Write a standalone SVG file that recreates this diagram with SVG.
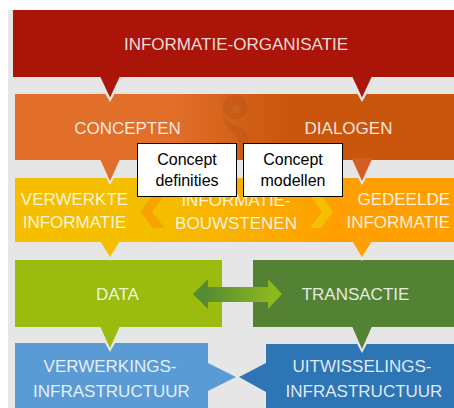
<svg xmlns="http://www.w3.org/2000/svg" width="454" height="408" viewBox="0 0 454 408">
<style>
.t{font-family:"Liberation Sans",Arial,sans-serif;font-size:17px;fill:#fff;fill-opacity:.86;text-anchor:middle}
.lb{font-family:"Liberation Sans",Arial,sans-serif;font-size:16px;fill:#000;text-anchor:middle}
.box{fill:#fff;stroke:#000;stroke-width:1}
.notch{fill:#E6E6E6}
.wm{fill:#000;fill-opacity:.06}
</style>
<defs>
<linearGradient id="gOr" gradientUnits="userSpaceOnUse" x1="175" y1="0" x2="285" y2="0">
<stop offset="0" stop-color="#E16F29"/><stop offset="1" stop-color="#C9560C"/>
</linearGradient>
<linearGradient id="gYe" gradientUnits="userSpaceOnUse" x1="150" y1="0" x2="330" y2="0">
<stop offset="0" stop-color="#F5BF00"/><stop offset="1" stop-color="#FFA000"/>
</linearGradient>
<linearGradient id="gAr" gradientUnits="userSpaceOnUse" x1="205" y1="0" x2="272" y2="0">
<stop offset="0" stop-color="#568A33"/><stop offset="1" stop-color="#8DB81E"/>
</linearGradient>
</defs>
<rect x="8" y="10" width="446" height="398" fill="#E6E6E6"/>

<g id="informatie-organisatie">
<rect x="13" y="10" width="441" height="67" fill="#AB1409"/>
<text class="t" x="236" y="50">INFORMATIE-ORGANISATIE</text>
</g>

<g id="concepten-dialogen">
<rect x="15" y="94" width="439" height="66" fill="url(#gOr)"/>
<circle class="wm" cx="235" cy="107" r="12.5"/>
<circle cx="236" cy="109" r="4" fill="#fff" fill-opacity=".06"/>
<path class="wm" d="M223 111 C222 124 238 124 244 130 C249 135 250 145 248 160 L240 160 C241 146 239 138 234 134 C228 129 222 124 223 111 Z"/>
<text class="t" x="127.5" y="134">CONCEPTEN</text>
<text class="t" x="348.5" y="134">DIALOGEN</text>
</g>

<g id="informatie-bouwstenen">
<rect x="15" y="178" width="439" height="64" fill="url(#gYe)"/>
<polygon points="153,195 165,195 152,211.5 165,228 153,228 140,211.5" fill="#F8A300"/>
<polygon points="310,195 321,195 333,211.5 321,228 310,228 322,211.5" fill="#F5C000"/>
<text class="t" x="74.5" y="205">VERWERKTE</text>
<text class="t" x="74.5" y="228">INFORMATIE</text>
<text class="t" x="236" y="206">INFORMATIE-</text>
<text class="t" x="236" y="229">BOUWSTENEN</text>
<text class="t" x="450" y="205" style="text-anchor:end">GEDEELDE</text>
<text class="t" x="450" y="228" style="text-anchor:end">INFORMATIE</text>
</g>

<g id="data">
<rect x="15" y="260" width="207" height="67" fill="#9BBB0E"/>
<text class="t" x="117.5" y="300">DATA</text>
</g>

<g id="transactie">
<rect x="253" y="260" width="201" height="67" fill="#548235"/>
<text class="t" x="355.5" y="300">TRANSACTIE</text>
</g>

<g id="verwerkings-infrastructuur">
<path d="M15 343 H208 V363 L236 377 L208 391 V408 H15 Z" fill="#5B9BD5"/>
<text class="t" x="110" y="372">VERWERKINGS-</text>
<text class="t" x="111.5" y="397">INFRASTRUCTUUR</text>
</g>

<g id="uitwisselings-infrastructuur">
<path d="M266 344 H454 V408 H266 V392 L239 377 L266 363 Z" fill="#2E75B6"/>
<text class="t" x="362" y="372">UITWISSELINGS-</text>
<text class="t" x="364" y="397">INFRASTRUCTUUR</text>
</g>

<g id="connectors">
<polygon class="notch" points="96,77 124,77 110,102"/>
<polygon points="99.5,75 120.5,75 110,97.5" fill="#AB1409"/>
<polygon class="notch" points="348,77 376,77 362,102"/>
<polygon points="351.5,75 372.5,75 362,97.5" fill="#AB1409"/>

<polygon class="notch" points="96,160 124,160 110,185"/>
<polygon points="99.5,158 120.5,158 110,181" fill="#E16F29"/>
<polygon class="notch" points="348,160 376,160 362,185"/>
<polygon points="351.5,158 372.5,158 362,181" fill="#D45E22"/>

<polygon class="notch" points="96,242 124,242 110,261"/>
<polygon points="99.5,240 120.5,240 110,257" fill="#F5BF00"/>
<polygon class="notch" points="348,242 376,242 362,261"/>
<polygon points="351.5,240 372.5,240 362,257" fill="#FFA000"/>

<polygon class="notch" points="96,327 124,327 110,352"/>
<polygon points="99.5,325 120.5,325 110,348" fill="#9BBB0E"/>
<polygon class="notch" points="348,327 376,327 362,353"/>
<polygon points="351.5,325 372.5,325 362,349" fill="#548235"/>

<polygon points="193,294 208,279 208,287 268,287 268,279 282,294 268,309 268,302 208,302 208,309" fill="url(#gAr)"/>
</g>

<g id="concept-definities">
<rect class="box" x="137.5" y="143.5" width="99" height="53"/>
<text class="lb" x="187" y="165">Concept</text>
<text class="lb" x="187" y="186">definities</text>
</g>
<g id="concept-modellen">
<rect class="box" x="243.5" y="143.5" width="99" height="53"/>
<text class="lb" x="293" y="165">Concept</text>
<text class="lb" x="293" y="186">modellen</text>
</g>
</svg>
